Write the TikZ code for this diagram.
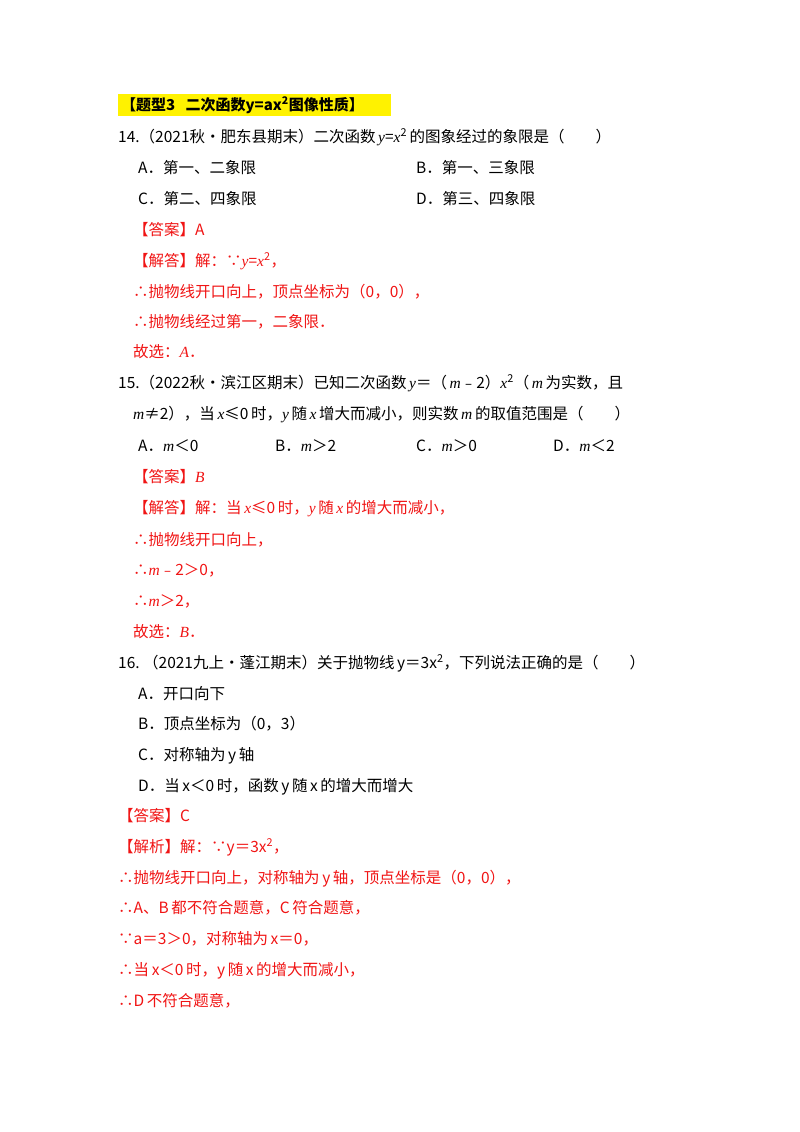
\documentclass[tikz,border=0pt]{standalone}
\usepackage{fontspec}
\setmainfont{Noto Sans CJK SC}
\newfontfamily\lt{Liberation Serif}
\definecolor{ans}{RGB}{240,20,20}
\newcommand{\vi}[1]{{\lt\itshape #1}}
\begin{document}
\begin{tikzpicture}[x=1pt,y=1pt,
  tx/.style={anchor=base west,inner sep=0pt,font=\fontsize{15.5}{18}\selectfont},
  rd/.style={tx,text=ans}]
\useasboundingbox (0,0) rectangle (800,-1132);
\fill[yellow] (118,-94) rectangle (391,-116);
\node[tx,font=\fontsize{15}{17}\selectfont\bfseries] (h) at (121,-110) {【题型3\ \ \ 二次函数y=ax\textsuperscript{2}图像性质】};
\node[tx] (q14) at (118,-142) {14.（2021秋•肥东县期末）二次函数\,\vi{y}=\vi{x}\textsuperscript{2}\,的图象经过的象限是（\qquad）};
\node[tx] (a14) at (138,-173) {A．第一、二象限};
\node[tx] (b14) at (416,-173) {B．第一、三象限};
\node[tx] (c14) at (138,-204) {C．第二、四象限};
\node[tx] (d14) at (416,-204) {D．第三、四象限};
\node[rd] (k14) at (133,-235) {【答案】A};
\node[rd] (j14) at (133,-266) {【解答】解：∵\vi{y}=\vi{x}\textsuperscript{2}，};
\node[rd] (s141) at (133,-297) {∴抛物线开口向上，顶点坐标为（0，0），};
\node[rd] (s142) at (133,-327) {∴抛物线经过第一，二象限．};
\node[rd] (g14) at (133,-357) {故选：\vi{A}．};
\node[tx] (q15) at (118,-388) {15.（2022秋•滨江区期末）已知二次函数\,\vi{y}＝（\,\vi{m}﹣2）\vi{x}\textsuperscript{2}（\,\vi{m}\,为实数，且};
\node[tx] (q15b) at (133,-419) {\vi{m}≠2），当\,\vi{x}≤0\,时，\vi{y}\,随\,\vi{x}\,增大而减小，则实数\,\vi{m}\,的取值范围是（\qquad）};
\node[tx] (a15) at (138,-451) {A．\vi{m}＜0};
\node[tx] (b15) at (275,-451) {B．\vi{m}＞2};
\node[tx] (c15) at (416,-451) {C．\vi{m}＞0};
\node[tx] (d15) at (553,-451) {D．\vi{m}＜2};
\node[rd] (k15) at (133,-482) {【答案】\vi{B}};
\node[rd] (j15) at (133,-513) {【解答】解：当\,\vi{x}≤0\,时，\vi{y}\,随\,\vi{x}\,的增大而减小，};
\node[rd] (s151) at (133,-545) {∴抛物线开口向上，};
\node[rd] (s152) at (133,-575) {∴\vi{m}﹣2＞0，};
\node[rd] (s153) at (133,-606) {∴\vi{m}＞2，};
\node[rd] (g15) at (133,-637) {故选：\vi{B}．};
\node[tx] (q16) at (118,-668) {16.\ （2021九上·蓬江期末）关于抛物线\,y＝3x\textsuperscript{2}，下列说法正确的是（\qquad）};
\node[tx] (a16) at (138,-699) {A．开口向下};
\node[tx] (b16) at (138,-729) {B．顶点坐标为（0，3）};
\node[tx] (c16) at (138,-760) {C．对称轴为\,y\,轴};
\node[tx] (d16) at (138,-791) {D．当\,x＜0\,时，函数\,y\,随\,x\,的增大而增大};
\node[rd] (k16) at (118,-821) {【答案】C};
\node[rd] (j16) at (118,-852) {【解析】解：∵y＝3x\textsuperscript{2}，};
\node[rd] (s161) at (118,-883) {∴抛物线开口向上，对称轴为\,y\,轴，顶点坐标是（0，0），};
\node[rd] (s162) at (118,-913) {∴A、B\,都不符合题意，C\,符合题意，};
\node[rd] (s163) at (118,-944) {∵a＝3＞0，对称轴为\,x＝0，};
\node[rd] (s164) at (118,-975) {∴当\,x＜0\,时，y\,随\,x\,的增大而减小，};
\node[rd] (s165) at (118,-1006) {∴D\,不符合题意，};
\end{tikzpicture}
\end{document}
